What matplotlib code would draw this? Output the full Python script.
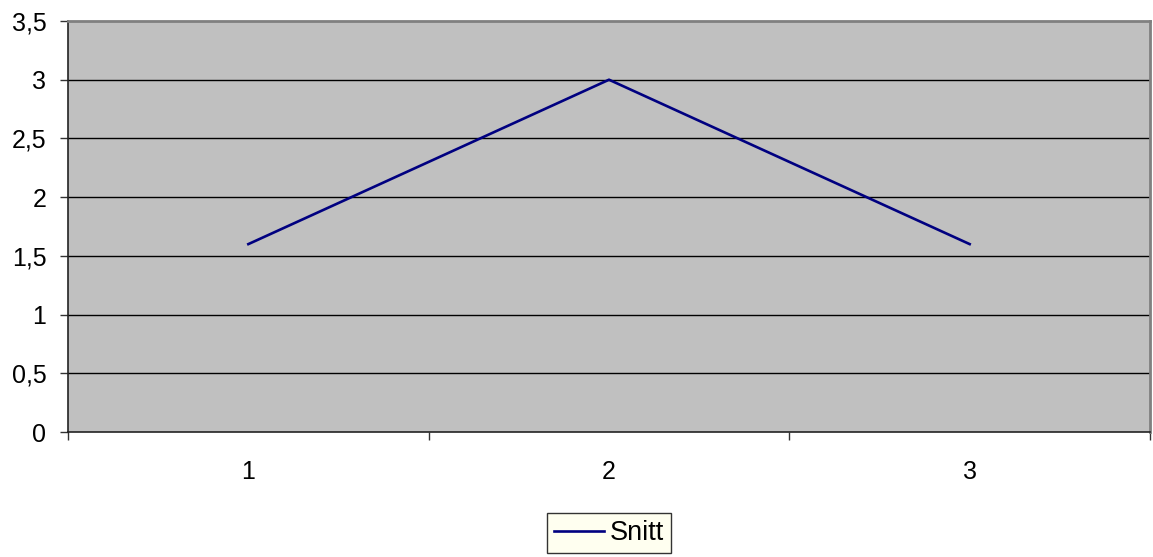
import matplotlib
matplotlib.use("Agg")
import matplotlib.pyplot as plt
from matplotlib.ticker import FixedLocator, FixedFormatter

categories = ["1", "2", "3"]
snitt = [1.6, 3.0, 1.6]
y_ticks = [0, 0.5, 1, 1.5, 2, 2.5, 3, 3.5]
y_labels = ["0", "0,5", "1", "1,5", "2", "2,5", "3", "3,5"]

plt.rcParams["font.family"] = ["Liberation Sans", "DejaVu Sans"]

W, H = 1153, 557
fig = plt.figure(figsize=(W / 100, H / 100), dpi=100)
fig.patch.set_facecolor("white")
ax = fig.add_axes([68 / W, (H - 432) / H, (1150 - 68) / W, (432 - 21) / H])
ax.set_facecolor("#C0C0C0")

x = [i + 0.5 for i in range(len(categories))]
line, = ax.plot(x, snitt, color="#000080", lw=1.9, label="Snitt", zorder=3)

ax.set_xlim(0, len(categories))
ax.set_ylim(0, 3.5)

# category boundaries carry the tick marks, labels sit at the centres
ax.xaxis.set_major_locator(FixedLocator(range(len(categories) + 1)))
ax.xaxis.set_major_formatter(FixedFormatter([""] * (len(categories) + 1)))
ax.xaxis.set_minor_locator(FixedLocator(x))
ax.xaxis.set_minor_formatter(FixedFormatter(categories))
ax.tick_params(axis="x", which="major", direction="out", length=6, width=1, color="#333333")
ax.tick_params(axis="x", which="minor", length=0, pad=20, labelsize=18)

ax.set_yticks(y_ticks)
ax.set_yticklabels(y_labels)
ax.tick_params(axis="y", direction="out", length=6, width=1, color="#333333", pad=9.5, labelsize=18)

for v in y_ticks[1:-1]:
    ax.axhline(v, color="black", lw=1, zorder=1)

for s in ("left", "bottom"):
    ax.spines[s].set_color("#222222")
    ax.spines[s].set_linewidth(1.2)
for s in ("top", "right"):
    ax.spines[s].set_color("#808080")
    ax.spines[s].set_linewidth(2)

leg = fig.legend(handles=[line], loc="center", bbox_to_anchor=(609 / W, 1 - 533 / H),
                 fontsize=19.5, frameon=True, fancybox=False, handlelength=1.85,
                 handletextpad=0.22, borderpad=0.27, borderaxespad=0)
leg.get_frame().set_facecolor("#FFFFF0")
leg.get_frame().set_edgecolor("#333333")
leg.get_frame().set_linewidth(1)
leg.get_frame().set_alpha(1)

fig.savefig("out.png", dpi=100, facecolor="white")
